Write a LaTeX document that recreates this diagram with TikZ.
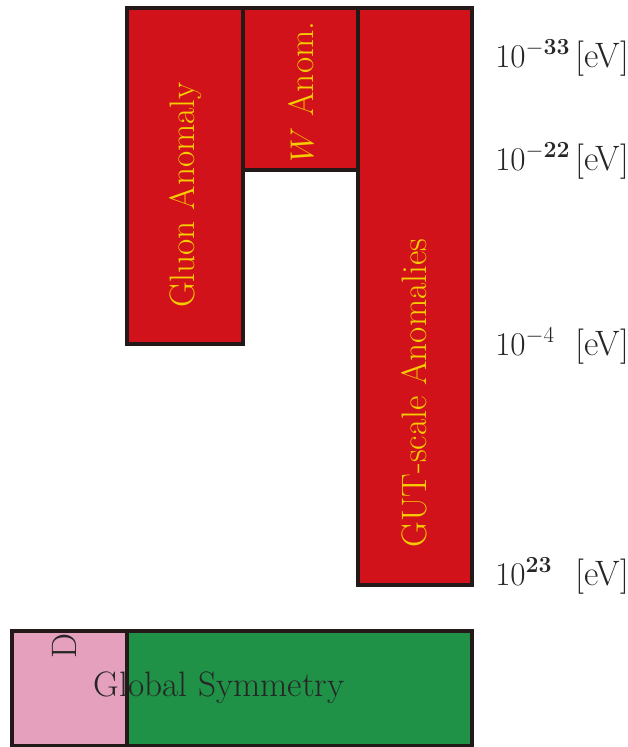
\documentclass[tikz,border=0pt]{standalone}
\usepackage{tikz}
\definecolor{boxred}{RGB}{210,18,26}
\definecolor{boxyellow}{RGB}{245,205,0}
\definecolor{boxgreen}{RGB}{32,146,72}
\definecolor{boxpink}{RGB}{229,160,190}
\definecolor{edge}{RGB}{35,25,25}
\begin{document}
\begin{tikzpicture}[x=0.75pt,y=-0.75pt,
  bar/.style={draw=edge,line width=2.4pt},
  bartext/.style={text=boxyellow,rotate=90,font=\fontsize{26.5}{30}\selectfont,inner sep=0pt},
  scaletext/.style={anchor=base west,font=\fontsize{26.5}{30}\selectfont,inner sep=0pt,text=black!85},
]
\useasboundingbox (0,0) rectangle (628,747);
% red bars
\draw[bar,fill=boxred] (127,8) rectangle (243,344);
\draw[bar,fill=boxred] (243,8) rectangle (358,170);
\draw[bar,fill=boxred] (358,8) rectangle (472,585);
\node[bartext] (gluon) at (186,195) {Gluon Anomaly};
\node[bartext] (wanom) at (301,92) {$W$ Anom.};
\node[bartext] (gut) at (414,393) {GUT-scale Anomalies};
% scale labels
\node[scaletext] (e33) at (495,67) {$10^{-\mathbf{33}}$};
\node[scaletext] (u33) at (575,67) {[eV]};
\node[scaletext] (e22) at (495,170) {$10^{-\mathbf{22}}$};
\node[scaletext] (u22) at (575,170) {[eV]};
\node[scaletext] (e4) at (495,355) {$10^{-4}$};
\node[scaletext] (u4) at (575,355) {[eV]};
\node[scaletext] (e23) at (495,585) {$10^{\mathbf{23}}$};
\node[scaletext] (u23) at (575,585) {[eV]};
% bottom bars
\draw[bar,fill=boxpink] (12,631) rectangle (127,746);
\draw[bar,fill=boxgreen] (127,631) rectangle (472,746);
\node[rotate=90,font=\fontsize{26.5}{30}\selectfont,inner sep=0pt,text=black!85] (dlabel) at (64,646) {D};
\node[font=\fontsize{26.5}{30}\selectfont,inner sep=0pt,text=black!85] (global) at (219,688) {Global Symmetry};
\end{tikzpicture}
\end{document}
